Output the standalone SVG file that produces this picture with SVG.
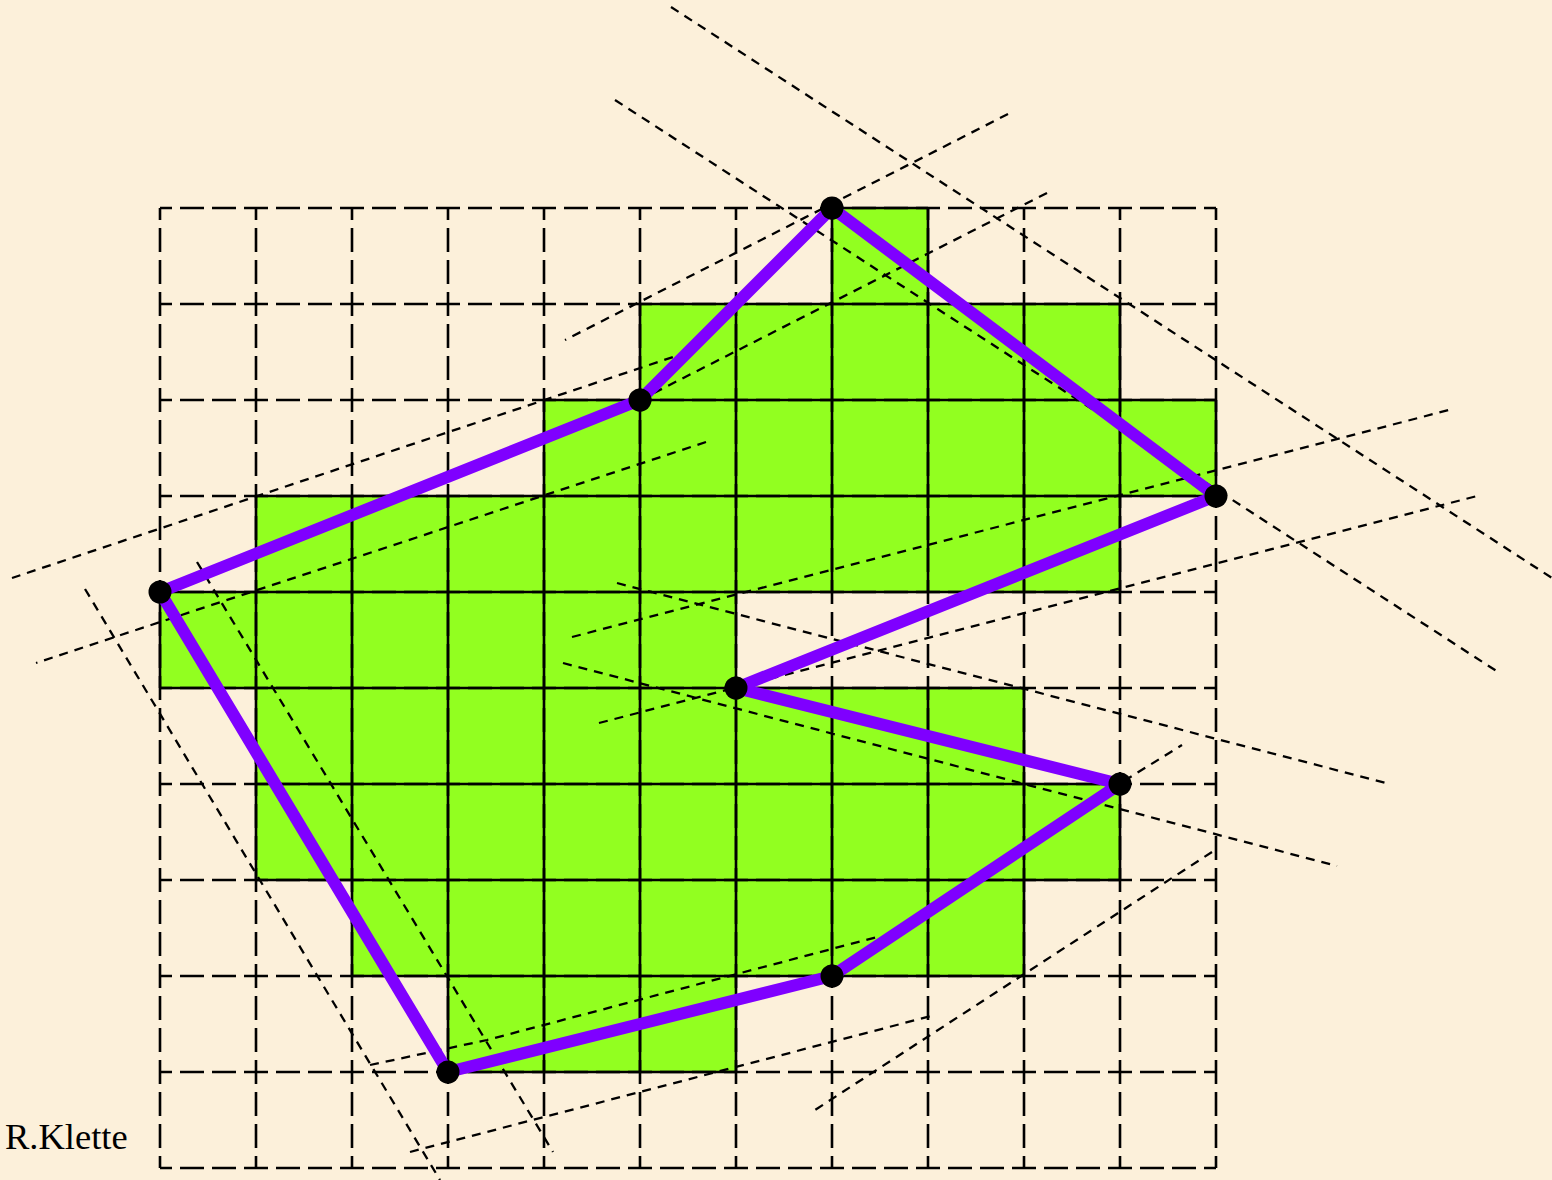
<svg xmlns="http://www.w3.org/2000/svg" width="1552" height="1180" viewBox="0 0 1552 1180">
<style>
.cell{fill:#92FF20;stroke:none}
.gd{stroke:#000;stroke-width:2.6;fill:none;stroke-dasharray:24 8;stroke-dashoffset:12}
.gs{stroke:#000;stroke-width:2.6;fill:none}
.dl{stroke:#000;stroke-width:2.3;fill:none;stroke-dasharray:9 7}
.poly{stroke:#7F00FF;stroke-width:12;fill:none;stroke-linejoin:round;stroke-linecap:round}
.vx{fill:#000}
.lbl{font-family:"Liberation Serif","Times New Roman",serif;font-size:36.5px;fill:#000}
</style>
<rect x="0" y="0" width="1552" height="1180" fill="#FCF0DA"/>
<g id="cells">
<rect class="cell" x="832" y="208" width="96" height="96"/>
<rect class="cell" x="640" y="304" width="480" height="96"/>
<rect class="cell" x="544" y="400" width="672" height="96"/>
<rect class="cell" x="256" y="496" width="864" height="96"/>
<rect class="cell" x="160" y="592" width="576" height="96"/>
<rect class="cell" x="256" y="688" width="768" height="96"/>
<rect class="cell" x="256" y="784" width="864" height="96"/>
<rect class="cell" x="352" y="880" width="672" height="96"/>
<rect class="cell" x="448" y="976" width="288" height="96"/>
</g>
<g id="grid-dashed">
<path class="gd" d="M160 208H1216M160 304H1216M160 400H1216M160 496H1216M160 592H1216M160 688H1216M160 784H1216M160 880H1216M160 976H1216M160 1072H1216M160 1168H1216"/>
<path class="gd" d="M160 208V1168M256 208V1168M352 208V1168M448 208V1168M544 208V1168M640 208V1168M736 208V1168M832 208V1168M928 208V1168M1024 208V1168M1120 208V1168M1216 208V1168"/>
</g>
<g id="grid-solid">
<path class="gs" d="M832 208H928M640 304H1120M544 400H1216M256 496H1216M160 592H1120M160 688H1024M256 784H1120M256 880H1120M352 976H1024M448 1072H736"/>
<path class="gs" d="M160 592V688M256 496V880M352 496V976M448 496V1072M544 400V1072M640 304V1072M736 304V1072M832 208V592M832 688V976M928 208V592M928 688V976M1024 304V592M1024 688V976M1120 304V592M1120 784V880M1216 400V496"/>
</g>
<g id="connectors">
<path class="dl" d="M671 7L1552 578"/>
<path class="dl" d="M615 100L1498 672"/>
<path class="dl" d="M1008 114L565 340"/>
<path class="dl" d="M1047 193L642 399"/>
<path class="dl" d="M688 352L12 578"/>
<path class="dl" d="M706 442L36 663"/>
<path class="dl" d="M572 637L1449 410"/>
<path class="dl" d="M599 723L1481 495"/>
<path class="dl" d="M617 583L1386 783"/>
<path class="dl" d="M563 663L1337 866"/>
<path class="dl" d="M197 562L553 1152"/>
<path class="dl" d="M85 589L440 1180"/>
<path class="dl" d="M370 1065L487 1040L877 937"/>
<path class="dl" d="M1124 781L1182 745"/>
<path class="dl" d="M1212 852L815 1110"/>
<path class="dl" d="M410 1152L935 1015"/>
</g>
<g id="polygon">
<path class="poly" d="M832 208L640 400L160 592L448 1072L832 976L1120 784L736 688L1216 496Z"/>
</g>
<g id="v1"><circle class="vx" cx="832" cy="208" r="11.5"/></g>
<g id="v2"><circle class="vx" cx="640" cy="400" r="11.5"/></g>
<g id="v3"><circle class="vx" cx="160" cy="592" r="11.5"/></g>
<g id="v4"><circle class="vx" cx="448" cy="1072" r="11.5"/></g>
<g id="v5"><circle class="vx" cx="832" cy="976" r="11.5"/></g>
<g id="v6"><circle class="vx" cx="1120" cy="784" r="11.5"/></g>
<g id="v7"><circle class="vx" cx="736" cy="688" r="11.5"/></g>
<g id="v8"><circle class="vx" cx="1216" cy="496" r="11.5"/></g>
<text class="lbl" x="5" y="1149">R.Klette</text>
</svg>
